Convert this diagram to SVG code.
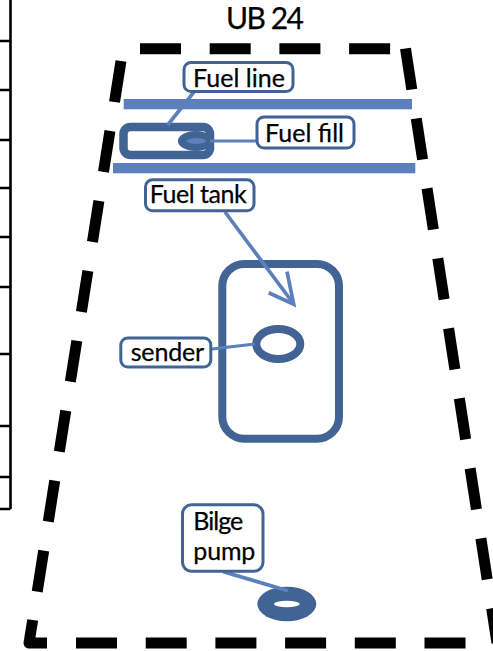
<svg xmlns="http://www.w3.org/2000/svg" width="493" height="651" viewBox="0 0 493 651">
<style>
.dash{fill:none;stroke:#000;stroke-width:11;stroke-linejoin:round}
.edge{fill:none;stroke:#000;stroke-width:2.6}
.part{fill:none;stroke:#416494;stroke-width:8}
.bar{fill:#5b80bc}
.conn{fill:none;stroke:#5b80bc;stroke-width:3.7}
.box{fill:#fff;stroke:#416494;stroke-width:3}
text{font-family:"Lato","Open Sans",sans-serif;font-size:25px;fill:#000;stroke:#000;stroke-width:.25}
</style>
<rect width="493" height="651" fill="#fff"/>
<g id="table-edge">
<path class="edge" d="M10.5 0V509M0 41H10.5M0 90H10.5M0 140H10.5M0 188H10.5M0 237H10.5M0 287H10.5M0 354H10.5M0 426H10.5M0 477H10.5M0 509H10.5"/>
</g>
<g id="title"><text x="226" y="29" textLength="78" style="font-size:30px">UB 24</text></g>
<g id="boat-outline">
<path class="dash" stroke-dasharray="41 28.7" d="M140 48.7H392"/>
<path class="dash" stroke-dasharray="41.5 29.3" d="M121 61L37.2 591.7"/>
<path class="dash" d="M32.7 620L29 643H47"/>
<path class="dash" stroke-dasharray="41 28.7" d="M76 643H467"/>
<path class="dash" stroke-dasharray="41.5 29.3" d="M405.5 48.5L497 643"/>
</g>
<g id="fuel-line-bars">
<rect class="bar" x="123.7" y="99" width="288.3" height="10.3"/>
<rect class="bar" x="113" y="163" width="302.3" height="10.3"/>
</g>
<g id="fuel-tube"><rect class="part" x="123.5" y="127" width="86.5" height="28" rx="7" style="stroke-width:8.5"/></g>
<g id="fuel-fill-port">
<ellipse cx="195.7" cy="141" rx="17.8" ry="10" fill="#416494"/>
<ellipse cx="196.3" cy="141" rx="9.8" ry="3" fill="#5b80bc"/>
</g>
<g id="fuel-tank"><rect class="part" x="222.3" y="264" width="116.7" height="174.7" rx="22"/></g>
<g id="sender-unit"><ellipse class="part" cx="278.3" cy="344" rx="22" ry="15"/></g>
<g id="bilge-pump-unit">
<ellipse cx="286.8" cy="604" rx="29.5" ry="17.3" fill="#416494"/>
<ellipse cx="286.8" cy="604" rx="12.8" ry="3.3" fill="#fff"/>
</g>
<g id="connectors">
<path class="conn" d="M195 90.7L167.7 125"/>
<path class="conn" d="M210 141H256" style="stroke-width:3"/>
<path class="conn" d="M225 212L293 303"/>
<path class="conn" d="M287 271.7L293.7 304.3L268.7 292.7"/>
<path class="conn" d="M212 349L255 344" style="stroke-width:3"/>
<path class="conn" d="M223.3 571.7L288 590.7"/>
</g>
<g id="fuel-line">
<rect class="box" x="184" y="62.5" width="109" height="29" rx="7"/>
<text x="193" y="87" textLength="92">Fuel line</text>
</g>
<g id="fuel-fill">
<rect class="box" x="257" y="117" width="97" height="31" rx="7"/>
<text x="265" y="142" textLength="79">Fuel fill</text>
</g>
<g id="fuel-tank-label">
<rect class="box" x="145.5" y="179.8" width="108.5" height="31" rx="7"/>
<text x="149.7" y="203" textLength="97">Fuel tank</text>
</g>
<g id="sender">
<rect class="box" x="120.8" y="338" width="90" height="29" rx="7"/>
<text x="130.7" y="361" textLength="73.5">sender</text>
</g>
<g id="bilge-pump">
<rect class="box" x="182.5" y="504.8" width="80.5" height="66.5" rx="9"/>
<text x="193.3" y="529.5" textLength="50">Bilge</text>
<text x="193.3" y="560" textLength="62">pump</text>
</g>
</svg>
